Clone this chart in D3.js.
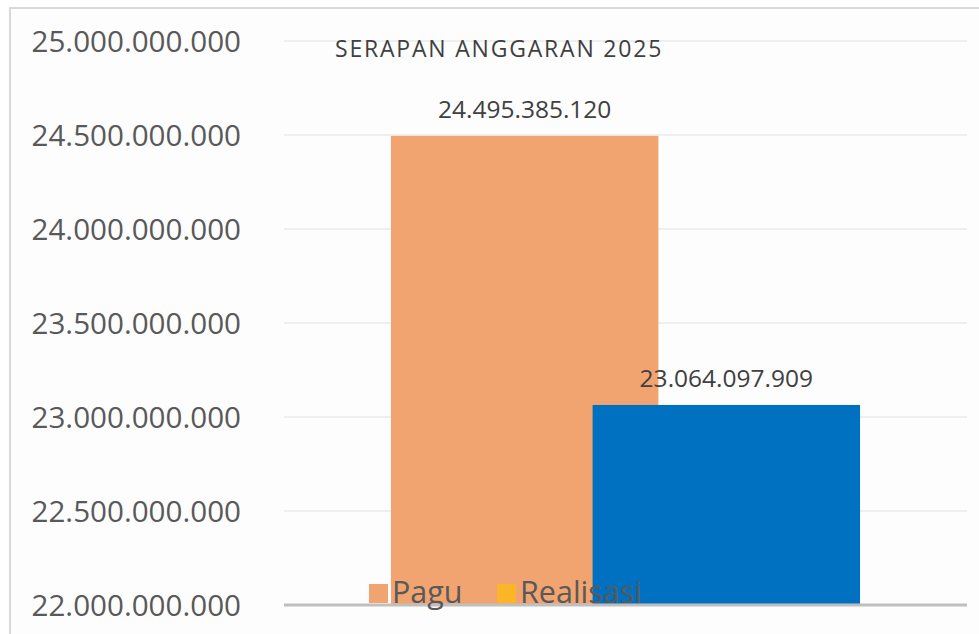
<!DOCTYPE html>
<html>
  <head>
    <meta charset="utf-8">
    <title>Serapan Anggaran 2025</title>
    <script src="https://d3js.org/d3.v7.min.js"></script>
    <style>
    body { margin: 0; background: #fff; }
    text { font-family: "Open Sans", "Noto Sans", sans-serif; }
    </style>
  </head>
  <body>
<svg id="chart" width="979" height="634"></svg>

<script>
// data
var categories = ['2025'];
var seriesNames = ['Pagu', 'Realisasi'];
var seriesValues = [24495385120, 23064097909];
var seriesColors = ['#f1a46f', '#0070c0'];
var legendColors = ['#f1a46f', '#fbb527'];
var yTicks = [22000000000, 22500000000, 23000000000, 23500000000, 24000000000, 24500000000, 25000000000];
var title = 'SERAPAN ANGGARAN 2025';

var W = 979, H = 634;
var plot = { left: 284, right: 967, top: 41, bottom: 605 };

var svg = d3.select('#chart');

// chart frame
svg.append('rect')
  .attr('x', 10).attr('y', 8)
  .attr('width', W + 10).attr('height', H)
  .attr('fill', '#fdfdfd')
  .attr('stroke', '#d9d9d9')
  .attr('stroke-width', 2);

var y = d3.scaleLinear()
  .domain([22000000000, 25000000000])
  .range([plot.bottom, plot.top]);

var x = d3.scaleBand()
  .domain(categories)
  .range([plot.left, plot.right]);

// excel-ish gap width / overlap
var gapWidth = 0.8, overlap = 0.246;
var n = seriesNames.length;
var barW = x.bandwidth() / (gapWidth + 1 + (n - 1) * (1 - overlap));
var step = barW * (1 - overlap);
var xs = d3.scaleLinear()
  .domain([0, n - 1])
  .range([0, step]);

function fmt(v) {
  return d3.format(',')(v).replace(/,/g, '.');
}

// gridlines
svg.append('g')
  .selectAll('line')
  .data(yTicks.slice(1))
  .join('line')
    .attr('x1', plot.left).attr('x2', plot.right)
    .attr('y1', function(d) { return y(d); })
    .attr('y2', function(d) { return y(d); })
    .attr('stroke', '#efefef')
    .attr('stroke-width', 2);

// y axis labels
svg.append('g')
  .selectAll('text')
  .data(yTicks)
  .join('text')
    .attr('x', 241)
    .attr('y', function(d) { return y(d); })
    .attr('dy', '0.36em')
    .attr('text-anchor', 'end')
    .attr('font-size', 29.6)
    .attr('fill', '#595959')
    .text(fmt);

var series = seriesNames.map(function(name, i) {
  return { name: name, value: seriesValues[i], cat: categories[0], i: i };
});

var groupX = function(d) {
  return x(d.cat) + barW * gapWidth / 2 + xs(d.i);
};

// bars
svg.append('g')
  .selectAll('rect')
  .data(series)
  .join('rect')
    .attr('x', groupX)
    .attr('y', function(d) { return y(d.value); })
    .attr('width', barW)
    .attr('height', function(d) { return y(22000000000) - y(d.value); })
    .attr('fill', function(d) { return seriesColors[d.i]; });

// value labels
svg.append('g')
  .selectAll('text')
  .data(series)
  .join('text')
    .attr('x', function(d) { return groupX(d) + barW / 2; })
    .attr('y', function(d) { return y(d.value) - 18; })
    .attr('text-anchor', 'middle')
    .attr('font-size', 24.5)
    .attr('fill', '#404040')
    .text(function(d) { return fmt(d.value); });

// x axis line
svg.append('line')
  .attr('x1', plot.left).attr('x2', plot.right)
  .attr('y1', plot.bottom).attr('y2', plot.bottom)
  .attr('stroke', '#bfbfbf')
  .attr('stroke-width', 3);

// title
svg.append('text')
  .attr('x', 335)
  .attr('y', 57)
  .attr('font-size', 23)
  .attr('letter-spacing', 1.8)
  .attr('fill', '#404040')
  .text(title);

// legend
var legend = svg.append('g');
var legendX = [369, 497];
var items = legend.selectAll('g')
  .data(seriesNames)
  .join('g')
    .attr('transform', function(d, i) { return 'translate(' + legendX[i] + ',584)'; });
items.append('rect')
  .attr('width', 19).attr('height', 19)
  .attr('fill', function(d, i) { return legendColors[i]; });
items.append('text')
  .attr('x', 23)
  .attr('y', 19)
  .attr('font-size', 30.5)
  .attr('fill', '#595959')
  .text(function(d) { return d; });
</script>
  </body>
</html>
